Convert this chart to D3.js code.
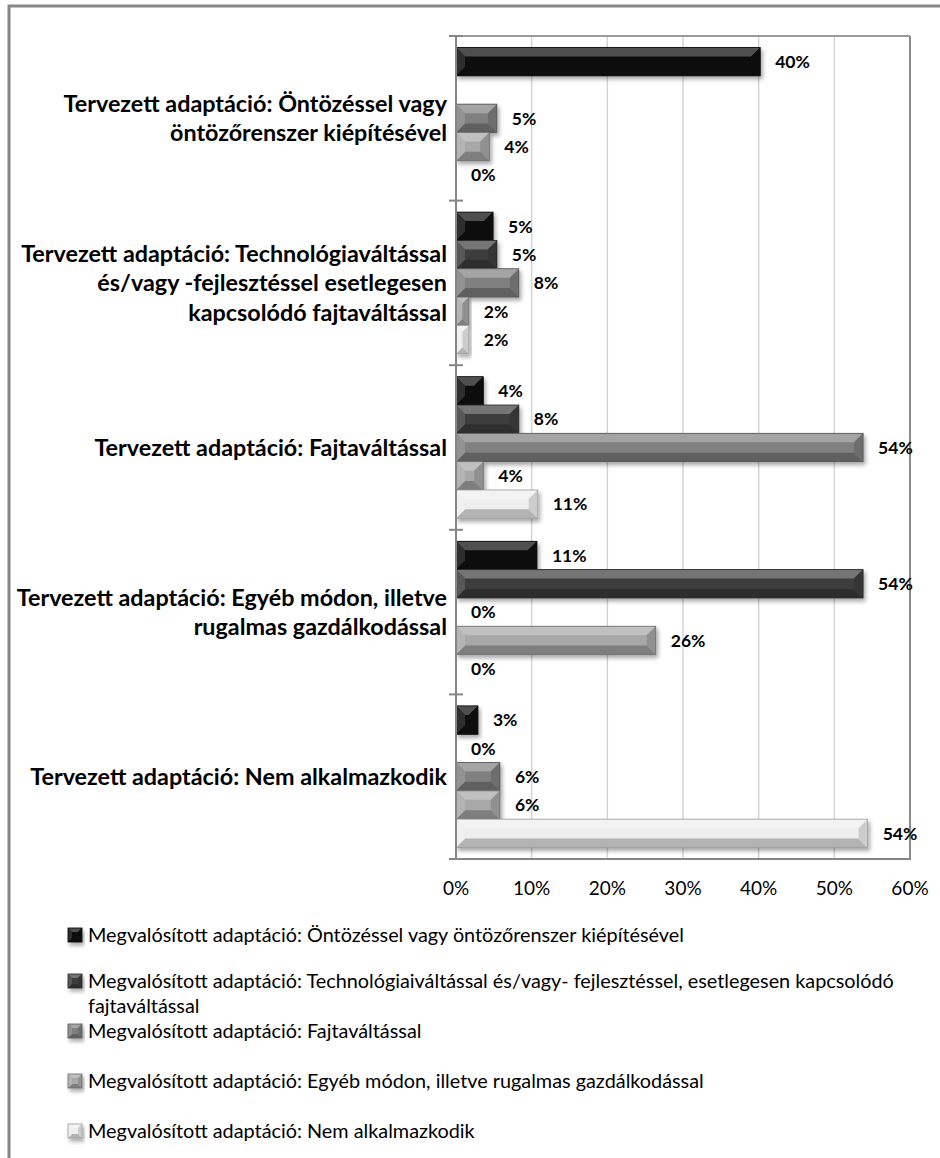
<!DOCTYPE html>
<html>
<head>
<meta charset="utf-8">
<script src="https://cdn.jsdelivr.net/npm/d3@7"></script>
<style>
  html, body { margin: 0; padding: 0; background: #fff; }
  svg { display: block; }
  text { font-family: Lato, "Open Sans", sans-serif; fill: #000; }
</style>
</head>
<body>
<svg id="chart" width="940" height="1158"></svg>
<script>
// ---------- DATA ----------
const categories = [
  "Tervezett adaptáció: Öntözéssel vagy öntözőrenszer kiépítésével",
  "Tervezett adaptáció: Technológiaváltással és/vagy -fejlesztéssel esetlegesen kapcsolódó fajtaváltással",
  "Tervezett adaptáció: Fajtaváltással",
  "Tervezett adaptáció: Egyéb módon, illetve rugalmas gazdálkodással",
  "Tervezett adaptáció: Nem alkalmazkodik"
];
const categoryLines = [
  ["Tervezett adaptáció: Öntözéssel vagy", "öntözőrenszer kiépítésével"],
  ["Tervezett adaptáció: Technológiaváltással", "és/vagy -fejlesztéssel esetlegesen", "kapcsolódó fajtaváltással"],
  ["Tervezett adaptáció: Fajtaváltással"],
  ["Tervezett adaptáció: Egyéb módon, illetve", "rugalmas gazdálkodással"],
  ["Tervezett adaptáció: Nem alkalmazkodik"]
];
const seriesNames = [
  "Megvalósított adaptáció: Öntözéssel vagy öntözőrenszer kiépítésével",
  "Megvalósított adaptáció: Technológiaiváltással és/vagy- fejlesztéssel, esetlegesen kapcsolódó fajtaváltással",
  "Megvalósított adaptáció: Fajtaváltással",
  "Megvalósított adaptáció: Egyéb módon, illetve rugalmas gazdálkodással",
  "Megvalósított adaptáció: Nem alkalmazkodik"
];
const legendLines = [
  ["Megvalósított adaptáció: Öntözéssel vagy öntözőrenszer kiépítésével"],
  ["Megvalósított adaptáció: Technológiaiváltással és/vagy- fejlesztéssel, esetlegesen kapcsolódó", "fajtaváltással"],
  ["Megvalósított adaptáció: Fajtaváltással"],
  ["Megvalósított adaptáció: Egyéb módon, illetve rugalmas gazdálkodással"],
  ["Megvalósított adaptáció: Nem alkalmazkodik"]
];
// percentages, per series, in category order (null = no value)
const seriesIrrigation  = [40.2, 4.9, 3.6, 10.7, 2.9];
const seriesTechnology  = [null, 5.4, 8.3, 53.8, 0];
const seriesVariety     = [5.4, 8.3, 53.8, 0, 5.8];
const seriesOther       = [4.4, 1.7, 3.6, 26.4, 5.8];
const seriesNone        = [0, 1.7, 10.8, 0, 54.4];
const seriesValues = [seriesIrrigation, seriesTechnology, seriesVariety, seriesOther, seriesNone];
const xTicks = [0, 10, 20, 30, 40, 50, 60];
const xTickLabels = ["0%", "10%", "20%", "30%", "40%", "50%", "60%"];

// ---------- STYLE ----------
const faceColors = ["#0c0c0c", "#3e3e3e", "#808080", "#a8a8a8", "#eeeeee"];

const svg = d3.select("#chart");
const defs = svg.append("defs");
const shadow = defs.append("filter").attr("id", "shadow")
  .attr("x", "-10%").attr("y", "-30%").attr("width", "130%").attr("height", "180%");
shadow.append("feDropShadow").attr("dx", 2).attr("dy", 3).attr("stdDeviation", 2)
  .attr("flood-color", "#000").attr("flood-opacity", 0.35);

// outer frame (only top & left visible)
svg.append("rect").attr("x", 9).attr("y", 6).attr("width", 1000).attr("height", 1300)
  .attr("fill", "none").attr("stroke", "#878787").attr("stroke-width", 3);

const plotTop = 36, plotBottom = 859, plotLeft = 456, plotRight = 910;
const x = d3.scaleLinear().domain([0, 60]).range([plotLeft, plotRight]);
const y = d3.scaleBand().domain(categories).range([plotTop, plotBottom]).paddingInner(0).paddingOuter(0);
const pad = 11.5;
const ySub = d3.scaleBand().domain(d3.range(seriesNames.length)).range([pad, y.bandwidth() - pad]).padding(0);

// gridlines
svg.append("g").selectAll("line").data(xTicks.slice(1)).join("line")
  .attr("x1", d => x(d)).attr("x2", d => x(d))
  .attr("y1", plotTop).attr("y2", plotBottom)
  .attr("stroke", d => d === 60 ? "#8c8c8c" : "#d4d4d4").attr("stroke-width", d => d === 60 ? 2 : 1.5);
// plot top border
svg.append("line").attr("x1", plotLeft).attr("x2", plotRight).attr("y1", plotTop).attr("y2", plotTop)
  .attr("stroke", "#9a9a9a").attr("stroke-width", 2);

function shade(c, k) {
  return k > 0 ? d3.interpolateRgb(c, "#ffffff")(k) : d3.interpolateRgb(c, "#000000")(-k);
}

function bevelBar(g, x0, y0, w, h, c, b) {
  if (w <= 0) return;
  const bb = Math.min(b, w / 2, h / 2);
  const grp = g.append("g").attr("filter", "url(#shadow)");
  grp.append("rect").attr("x", x0).attr("y", y0).attr("width", w).attr("height", h).attr("fill", c);
  const x1 = x0 + w, y1 = y0 + h;
  const pts = (a) => a.map(p => p.join(",")).join(" ");
  grp.append("polygon").attr("points", pts([[x0,y0],[x1,y0],[x1-bb,y0+bb],[x0+bb,y0+bb]])).attr("fill", shade(c, 0.28));
  grp.append("polygon").attr("points", pts([[x0,y1],[x1,y1],[x1-bb,y1-bb],[x0+bb,y1-bb]])).attr("fill", shade(c, -0.25));
  grp.append("polygon").attr("points", pts([[x0,y0],[x0+bb,y0+bb],[x0+bb,y1-bb],[x0,y1]])).attr("fill", shade(c, 0.14));
  grp.append("polygon").attr("points", pts([[x1,y0],[x1-bb,y0+bb],[x1-bb,y1-bb],[x1,y1]])).attr("fill", shade(c, -0.14));
  grp.append("rect").attr("x", x0).attr("y", y0).attr("width", w).attr("height", h)
    .attr("fill", "none").attr("stroke", shade(c, -0.35)).attr("stroke-width", 0.8);
}

// bars
const barsG = svg.append("g");
categories.forEach((cat, ci) => {
  seriesValues.forEach((vals, si) => {
    const v = vals[ci];
    if (v === null) return;
    const y0 = y(cat) + ySub(si);
    bevelBar(barsG, x(0), y0, x(v) - x(0), ySub.bandwidth(), faceColors[si], 9);
  });
});

// axes lines
svg.append("line").attr("x1", plotLeft).attr("x2", plotLeft).attr("y1", plotTop).attr("y2", plotBottom + 1)
  .attr("stroke", "#868686").attr("stroke-width", 2);
svg.append("line").attr("x1", plotLeft - 7).attr("x2", plotRight + 1).attr("y1", plotBottom).attr("y2", plotBottom)
  .attr("stroke", "#868686").attr("stroke-width", 2);
// category ticks
svg.append("g").selectAll("line").data(categories).join("line")
  .attr("x1", plotLeft - 7).attr("x2", plotLeft + 7)
  .attr("y1", d => y(d)).attr("y2", d => y(d))
  .attr("stroke", "#868686").attr("stroke-width", 2);

// data labels
const labelsG = svg.append("g");
categories.forEach((cat, ci) => {
  seriesValues.forEach((vals, si) => {
    const v = vals[ci];
    if (v === null) return;
    labelsG.append("text")
      .attr("x", x(v) + 15)
      .attr("y", y(cat) + ySub(si) + ySub.bandwidth() / 2)
      .attr("dy", "0.36em")
      .attr("font-weight", "bold").attr("font-size", 17.5)
      .text(Math.round(v) + "%");
  });
});

// x tick labels
svg.append("g").selectAll("text").data(xTicks).join("text")
  .attr("x", d => x(d)).attr("y", 888).attr("dy", "0.36em")
  .attr("text-anchor", "middle").attr("font-size", 19)
  .text((d, i) => xTickLabels[i]);

// category labels
const catG = svg.append("g");
const catLH = 29.5;
categoryLines.forEach((lines, ci) => {
  const cy = y(categories[ci]) + y.bandwidth() / 2;
  const t = catG.append("text").attr("text-anchor", "end").attr("font-weight", "bold").attr("font-size", 20);
  lines.forEach((ln, li) => {
    t.append("tspan").attr("x", 447)
      .attr("y", cy + (li - (lines.length - 1) / 2) * catLH)
      .attr("dy", "0.36em").text(ln);
  });
});
// fit bold category font to reference width (longest single line ~417px)
(function fit() {
  const nodes = catG.selectAll("text").nodes();
  const w = nodes[4].getComputedTextLength();
  catG.selectAll("text").attr("font-size", 20 * 417 / w);
})();

// legend
const legG = svg.append("g");
const legendY = [935, 981, 1031, 1081, 1131];
const legLH = 25;
legendLines.forEach((lines, i) => {
  const ly = legendY[i];
  bevelBar(legG, 68, ly - 7, 14, 14, faceColors[i], 4);
  const t = legG.append("text").attr("font-size", 17);
  lines.forEach((ln, li) => {
    t.append("tspan").attr("x", 88).attr("y", ly + li * legLH).attr("dy", "0.36em").text(ln);
  });
});
(function fitLegend() {
  const w = legG.selectAll("text").nodes()[0].getComputedTextLength();
  legG.selectAll("text").attr("font-size", 17 * 596 / w);
})();
</script>
</body>
</html>
